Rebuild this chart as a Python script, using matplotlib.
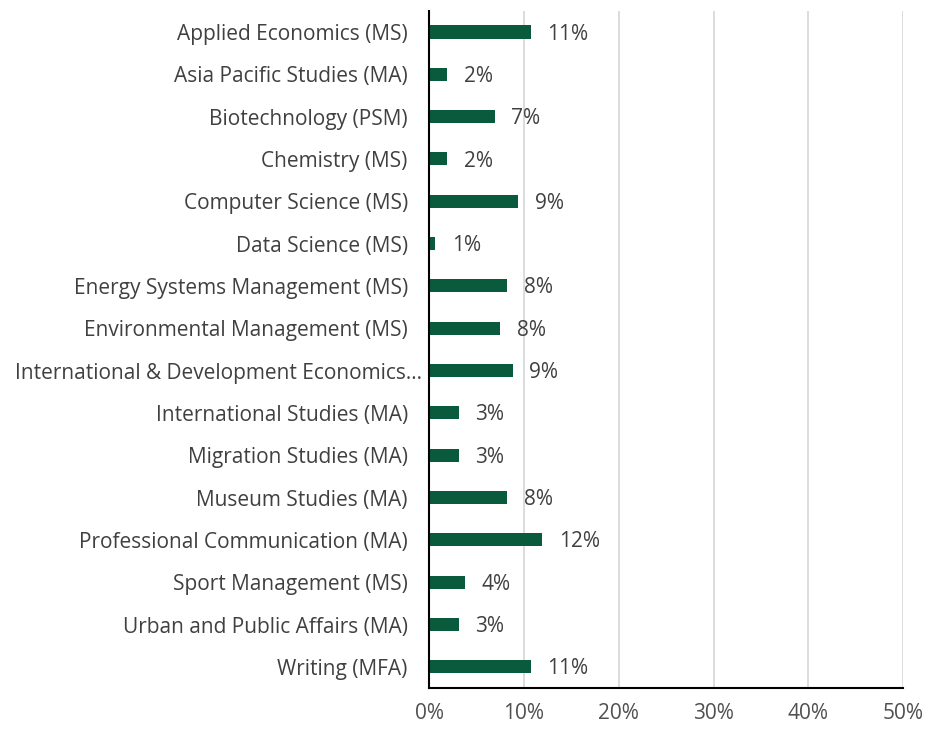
import matplotlib
matplotlib.use("Agg")
import matplotlib.pyplot as plt
import matplotlib.transforms as mtransforms
from matplotlib.ticker import FuncFormatter

categories = [
    "Applied Economics (MS)",
    "Asia Pacific Studies (MA)",
    "Biotechnology (PSM)",
    "Chemistry (MS)",
    "Computer Science (MS)",
    "Data Science (MS)",
    "Energy Systems Management (MS)",
    "Environmental Management (MS)",
    "International & Development Economics…",
    "International Studies (MA)",
    "Migration Studies (MA)",
    "Museum Studies (MA)",
    "Professional Communication (MA)",
    "Sport Management (MS)",
    "Urban and Public Affairs (MA)",
    "Writing (MFA)",
]
values = [10.7, 1.9, 6.9, 1.9, 9.4, 0.6, 8.2, 7.5, 8.8, 3.1, 3.1, 8.2, 11.9, 3.8, 3.1, 10.7]
labels = ["11%", "2%", "7%", "2%", "9%", "1%", "8%", "8%", "9%", "3%", "3%", "8%", "12%", "4%", "3%", "11%"]
xticks = [0, 10, 20, 30, 40, 50]

plt.rcParams['font.family'] = ['Open Sans', 'DejaVu Sans']
text_color = "#404040"
bar_color = "#0A5A3E"

fig = plt.figure(figsize=(9.26, 7.29), dpi=100)
ax = fig.add_axes([429.3 / 926, 1 - 688 / 729, (903 - 429.3) / 926, (688 - 10.8) / 729])

y = list(range(len(categories)))
ax.barh(y, values, height=0.31, color=bar_color, zorder=3)
ax.set_ylim(len(categories) - 0.5, -0.5)
ax.set_xlim(0, 50)
ax.set_yticks(y)
ax.set_yticklabels(categories, fontsize=15, color=text_color)
ax.set_xticks(xticks)
ax.xaxis.set_major_formatter(FuncFormatter(lambda v, p: f"{int(v)}%"))
ax.tick_params(axis='x', labelsize=15, labelcolor="#505050", length=0, pad=11)
ax.tick_params(axis='y', length=0, pad=15.5)
ax.grid(axis='x', color="#D9D9D9", linewidth=1.3, zorder=0)
for s in ["top", "right"]:
    ax.spines[s].set_visible(False)
ax.spines["left"].set_color("black")
ax.spines["bottom"].set_color("black")
ax.spines["left"].set_linewidth(1.5)
ax.spines["bottom"].set_linewidth(1.5)
ax.spines["left"].set_zorder(4)

# truncated label sits closer to the axis in the original
for t in ax.get_yticklabels():
    if t.get_text().endswith("…"):
        t.set_transform(t.get_transform() + mtransforms.ScaledTranslation(14 / 100, 0, fig.dpi_scale_trans))

for yi, v, lab in zip(y, values, labels):
    ax.annotate(lab, xy=(v, yi), xytext=(12, -1.5), textcoords="offset points",
                va="center", ha="left", fontsize=15, color=text_color)

fig.savefig("out.png", dpi=100)
